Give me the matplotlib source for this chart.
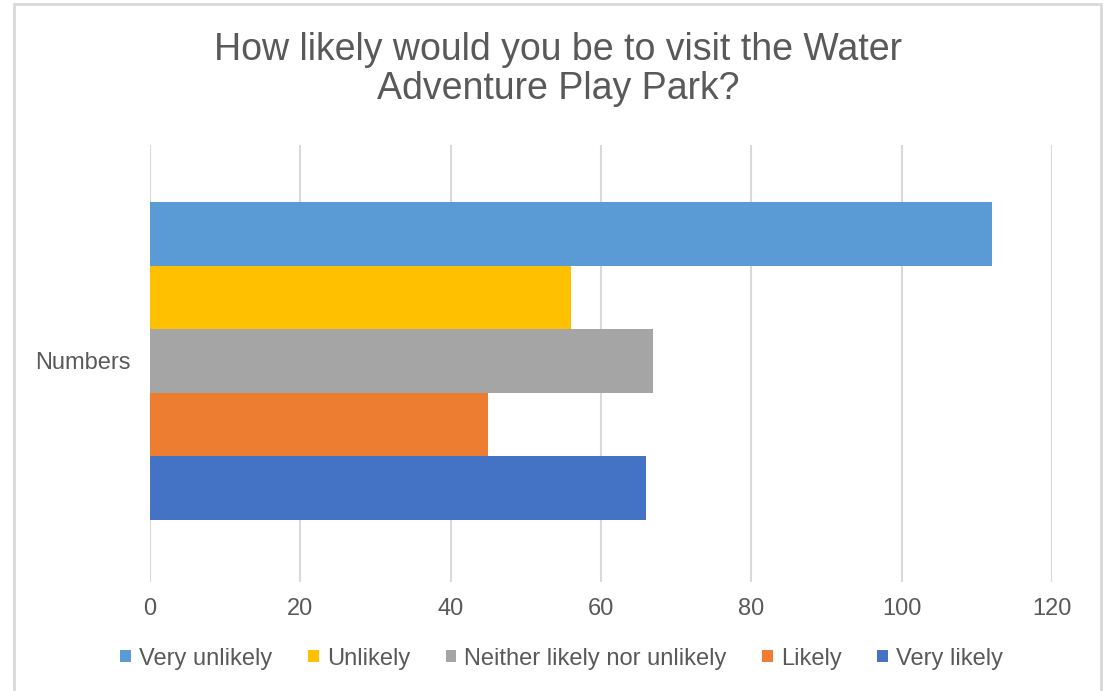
import matplotlib.pyplot as plt
from matplotlib.patches import Rectangle

plt.rcParams['font.family'] = ['Liberation Sans', 'DejaVu Sans']

responses = ["Very unlikely", "Unlikely", "Neither likely nor unlikely", "Likely", "Very likely"]
counts = [112, 56, 67, 45, 66]
colors = ["#5b9bd5", "#ffc000", "#a5a5a5", "#ed7d31", "#4472c4"]
category = "Numbers"
xticks = [0, 20, 40, 60, 80, 100, 120]

fig = plt.figure(figsize=(11.06, 6.91), dpi=100)
ax = fig.add_axes([0.1356, 0.158, 0.8154, 0.632])

# first series sits on top, last one at the bottom
n = len(counts)
for i, (lab, v, c) in enumerate(zip(responses, counts, colors)):
    ax.barh(n - 1 - i, v, height=1.0, color=c, label=lab)

ax.set_xlim(0, 120)
ax.set_ylim(-0.5 - 0.975, n - 0.5 + 0.896)
ax.set_xticks(xticks)
ax.set_yticks([(n - 1) / 2])
ax.set_yticklabels([category])
ax.tick_params(length=0, labelsize=17, labelcolor="#595959")
ax.tick_params(axis="x", pad=12)
ax.tick_params(axis="y", pad=14)
ax.grid(axis="x", color="#d9d9d9", linewidth=1.5)
ax.set_axisbelow(True)
for s in ax.spines.values():
    s.set_visible(False)

fig.text(0.5045, 0.899, "How likely would you be to visit the Water\nAdventure Play Park?",
         ha="center", va="center", fontsize=27, color="#595959", linespacing=1.12)

fig.legend(loc="center", bbox_to_anchor=(0.508, 0.047), ncol=5, frameon=False,
           fontsize=17, labelcolor="#595959", handlelength=0.45, handleheight=0.45,
           handletextpad=0.35, columnspacing=1.5)

fig.patches.append(Rectangle((14 / 1106, -0.01), (1101 - 14) / 1106, 1 - 4 / 691 + 0.01,
                             transform=fig.transFigure, fill=False,
                             edgecolor="#d9d9d9", linewidth=2))

fig.savefig("out.png", dpi=100)
